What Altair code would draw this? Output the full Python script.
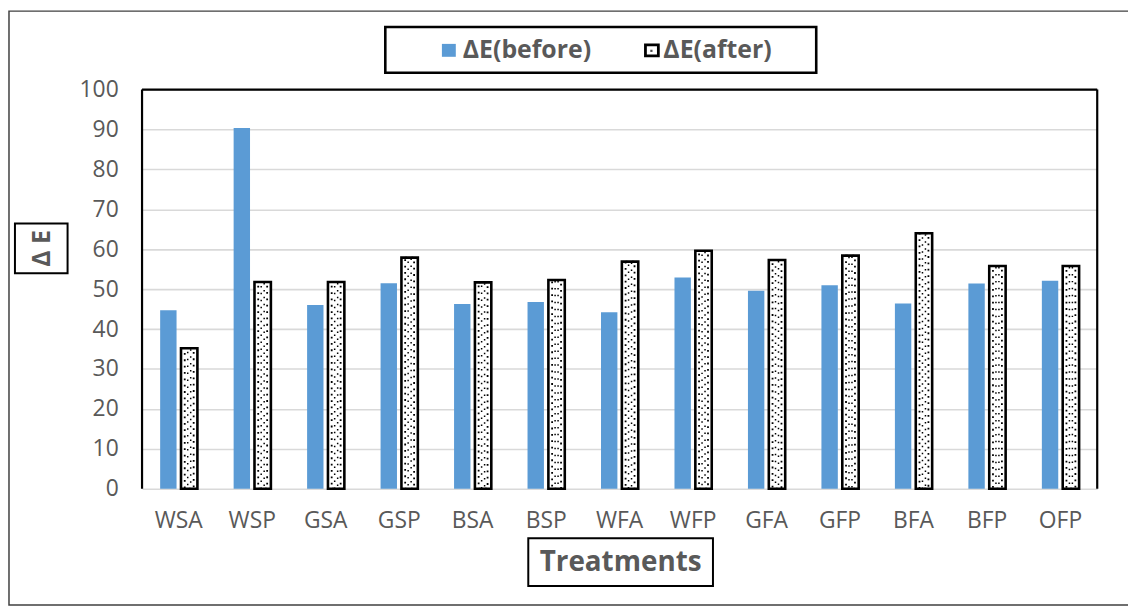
import altair as alt
import pandas as pd

treatments = ["WSA", "WSP", "GSA", "GSP", "BSA", "BSP", "WFA", "WFP", "GFA", "GFP", "BFA", "BFP", "OFP"]
series = ["ΔE(before)", "ΔE(after)"]
before = [44.7, 90.4, 46.0, 51.5, 46.3, 46.8, 44.2, 52.9, 49.6, 51.0, 46.4, 51.4, 52.1]
after = [35.2, 51.8, 51.8, 57.9, 51.7, 52.3, 56.9, 59.6, 57.3, 58.4, 64.0, 55.8, 55.8]
y_ticks = [0, 10, 20, 30, 40, 50, 60, 70, 80, 90, 100]
y_title = "Δ E"
x_title = "Treatments"

rows = []
for t, b, a in zip(treatments, before, after):
    rows.append({"treatment": t, "series": series[0], "value": b})
    rows.append({"treatment": t, "series": series[1], "value": a})
df = pd.DataFrame(rows)

W, H = 962, 402
FONT = "Open Sans"
GRAY = "#595959"
BLUE = "#5B9BD5"

x_enc = alt.X("treatment:N", sort=treatments,
              scale=alt.Scale(domain=treatments, paddingInner=0.493, paddingOuter=0.2465),
              axis=alt.Axis(title=None, labelAngle=0, labelFont=FONT, labelFontSize=23,
                            labelColor=GRAY, labelPadding=21, ticks=False, domain=False, grid=False))
xo_enc = alt.XOffset("series:N", sort=series,
                     scale=alt.Scale(domain=series, paddingInner=0.214, paddingOuter=0))
y_enc = alt.Y("value:Q",
              scale=alt.Scale(domain=[0, 100], nice=False),
              axis=alt.Axis(title=None, values=y_ticks, labelFont=FONT, labelFontSize=23,
                            labelColor=GRAY, labelPadding=24, ticks=False, domain=False,
                            grid=True, gridColor="#D9D9D9", gridWidth=1.6))

base = alt.Chart(df)

bars_before = base.transform_filter(alt.datum.series == series[0]).mark_bar(
    fill=BLUE).encode(x=x_enc, xOffset=xo_enc, y=y_enc)

bars_after = base.transform_filter(alt.datum.series == series[1]).mark_bar(
    fill="white", stroke="black", strokeWidth=2.6).encode(x=x_enc, xOffset=xo_enc, y=y_enc)

dots1 = base.transform_filter(alt.datum.series == series[1]).mark_bar(
    width=9, fill="transparent", stroke="black", strokeWidth=1.8,
    strokeDash=[1.8, 4.6]).encode(x=x_enc, xOffset=xo_enc, y=y_enc)

dots2 = base.transform_filter(alt.datum.series == series[1]).mark_bar(
    width=3, fill="transparent", stroke="black", strokeWidth=1.5,
    strokeDash=[1.5, 5.5], strokeDashOffset=3).encode(x=x_enc, xOffset=xo_enc, y=y_enc)

one = pd.DataFrame({"k": [0]})
deco = alt.Chart(one)

# plot frame: left, top, right
frame_left = deco.mark_rule(color="black", strokeWidth=2.2).encode(
    x=alt.value(0), y=alt.value(0), y2=alt.value(H))
frame_top = deco.mark_rule(color="black", strokeWidth=2.2).encode(
    x=alt.value(0), x2=alt.value(W), y=alt.value(0))
frame_right = deco.mark_rule(color="black", strokeWidth=2.2).encode(
    x=alt.value(W), y=alt.value(0), y2=alt.value(H))

outer = deco.mark_rect(filled=False, stroke="#404040", strokeWidth=1.5).encode(
    x=alt.value(-134), x2=alt.value(995), y=alt.value(-79), y2=alt.value(519))

# y title box
ybox = deco.mark_rect(filled=False, stroke="black", strokeWidth=2).encode(
    x=alt.value(-128), x2=alt.value(-75), y=alt.value(135), y2=alt.value(185))
ytext = deco.mark_text(font=FONT, fontSize=25, fontWeight="bold", color=GRAY, angle=270,
                       align="center", baseline="middle").encode(
    x=alt.value(-101), y=alt.value(160), text=alt.value(y_title))

# x title box
xbox = deco.mark_rect(filled=False, stroke="black", strokeWidth=2).encode(
    x=alt.value(389), x2=alt.value(575), y=alt.value(452), y2=alt.value(500))
xtext = deco.mark_text(font=FONT, fontSize=28, fontWeight="bold", color=GRAY,
                       align="center", baseline="middle").encode(
    x=alt.value(482), y=alt.value(477), text=alt.value(x_title))

# legend
lbox = deco.mark_rect(filled=False, stroke="black", strokeWidth=2.6).encode(
    x=alt.value(245), x2=alt.value(679), y=alt.value(-63), y2=alt.value(-17))
lsw1 = deco.mark_rect(fill=BLUE).encode(
    x=alt.value(302), x2=alt.value(316), y=alt.value(-46), y2=alt.value(-33))
ltx1 = deco.mark_text(font=FONT, fontSize=25, fontWeight="bold", color=GRAY,
                      align="left", baseline="middle").encode(
    x=alt.value(323), y=alt.value(-40), text=alt.value(series[0]))
lsw2 = deco.mark_rect(fill="white", stroke="black", strokeWidth=2.8).encode(
    x=alt.value(507), x2=alt.value(520), y=alt.value(-45), y2=alt.value(-34))
lsw2d = deco.mark_point(shape="square", size=5, filled=True, color="black").encode(
    x=alt.value(513), y=alt.value(-39))
ltx2 = deco.mark_text(font=FONT, fontSize=25, fontWeight="bold", color=GRAY,
                      align="left", baseline="middle").encode(
    x=alt.value(525), y=alt.value(-40), text=alt.value(series[1]))

chart = alt.layer(
    bars_before, bars_after, dots1, dots2,
    frame_left, frame_top, frame_right, outer,
    ybox, ytext, xbox, xtext, lbox, lsw1, ltx1, lsw2, lsw2d, ltx2
).properties(
    width=W, height=H,
    padding={"left": 135, "top": 80, "right": 31, "bottom": 119},
    autosize=alt.AutoSizeParams(type="none"),
    background="white",
).configure_view(stroke="transparent")

chart.save("out.html", embed_options={"renderer": "svg", "actions": False})
